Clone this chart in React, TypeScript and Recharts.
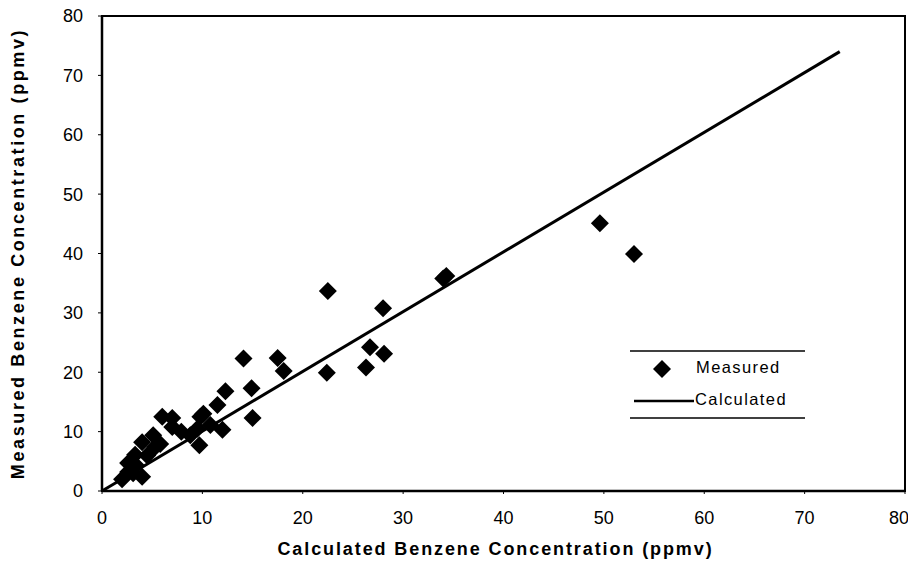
import React from "react";
import {
  ScatterChart, Scatter, XAxis, YAxis, ReferenceArea,
} from "recharts";

const measuredX = [
  2.0, 2.6, 3.1, 2.6, 3.3, 4.0, 3.4, 4.0, 4.5, 5.1, 5.3, 5.8, 6.0, 7.0, 7.0, 7.9, 8.8, 9.5, 9.7, 9.8,
  10.1, 10.8, 11.5, 12.0, 12.3, 14.1, 14.9, 15.0, 17.5, 18.1, 22.4, 22.5, 26.3, 26.7, 28.0, 28.1,
  34.0, 34.3, 49.6, 53.0,
];
const measuredY = [
  2.0, 3.2, 3.0, 4.7, 6.1, 2.4, 4.3, 8.2, 6.0, 9.4, 7.4, 7.9, 12.5, 10.8, 12.3, 10.0, 9.4, 10.5, 7.7, 12.5,
  13.0, 11.1, 14.5, 10.3, 16.8, 22.3, 17.3, 12.3, 22.4, 20.2, 19.9, 33.7, 20.8, 24.2, 30.8, 23.1,
  35.8, 36.2, 45.1, 39.9,
];
const calculatedX = [0, 73.5];
const calculatedY = [0, 74];
const ticks = [0, 10, 20, 30, 40, 50, 60, 70, 80];

const measured = measuredX.map((x, i) => ({ x, y: measuredY[i] }));
const calculated = calculatedX.map((x, i) => ({ x, y: calculatedY[i] }));

const FONT = "'Liberation Sans', Arial, Helvetica, sans-serif";

const Diamond = (props: any) => {
  const { cx, cy } = props;
  const r = 9;
  return (
    <polygon
      points={`${cx},${cy - r} ${cx + r},${cy} ${cx},${cy + r} ${cx - r},${cy}`}
      fill="#000"
    />
  );
};

// legend drawn on top of the chart, like the boxed key in the original figure
const LegendBox = () => (
  <svg width={180} height={72} style={{ position: "absolute", left: 630, top: 349 }}>
    <line x1={0} y1={2} x2={175} y2={2} stroke="#000" strokeWidth={1.5} />
    <polygon points="32,11 41,20 32,29 23,20" fill="#000" />
    <text x={66} y={20} dominantBaseline="middle" fontFamily={FONT} fontSize={16.5} letterSpacing={1.4}>
      Measured
    </text>
    <line x1={4} y1={52} x2={64} y2={52} stroke="#000" strokeWidth={2.5} />
    <text x={65} y={52} dominantBaseline="middle" fontFamily={FONT} fontSize={16.5} letterSpacing={1.4}>
      Calculated
    </text>
    <line x1={0} y1={69} x2={175} y2={69} stroke="#000" strokeWidth={1.5} />
  </svg>
);

export default function App() {
  const tick = { fill: "#000", fontSize: 18, fontFamily: FONT };
  const title = { fill: "#000", fontSize: 18, fontWeight: 700, fontFamily: FONT, letterSpacing: 1.9 };
  return (
    <div style={{ position: "absolute", left: 0, top: 0, width: 908, height: 562, background: "#fff" }}>
      <ScatterChart width={908} height={562} margin={{ top: 16, right: 3, left: 0, bottom: 0 }}>
        <XAxis
          type="number"
          dataKey="x"
          domain={[0, 80]}
          ticks={ticks}
          height={71}
          tick={tick}
          tickSize={3}
          tickMargin={17}
          axisLine={{ stroke: "#000", strokeWidth: 2.5 }}
          tickLine={{ stroke: "#000" }}
          label={{
            value: "Calculated Benzene Concentration (ppmv)",
            position: "insideBottom",
            offset: 7,
            dx: -8,
            style: title,
          }}
        />
        <YAxis
          type="number"
          dataKey="y"
          domain={[0, 80]}
          ticks={ticks}
          width={102}
          tick={tick}
          tickSize={4}
          tickMargin={15}
          axisLine={{ stroke: "#000", strokeWidth: 2.5 }}
          tickLine={{ stroke: "#000" }}
          label={{
            value: "Measured Benzene Concentration (ppmv)",
            angle: -90,
            position: "insideLeft",
            offset: 18,
            style: { ...title, letterSpacing: 2.6, textAnchor: "middle" },
          }}
        />
        <ReferenceArea
          x1={0}
          x2={80}
          y1={0}
          y2={80}
          fill="none"
          stroke="#000"
          strokeWidth={2}
          ifOverflow="visible"
        />
        <Scatter
          name="Calculated"
          data={calculated}
          line={{ stroke: "#000", strokeWidth: 3 }}
          shape={() => null}
          isAnimationActive={false}
        />
        <Scatter name="Measured" data={measured} shape={Diamond} isAnimationActive={false} />
      </ScatterChart>
      <LegendBox />
    </div>
  );
}
